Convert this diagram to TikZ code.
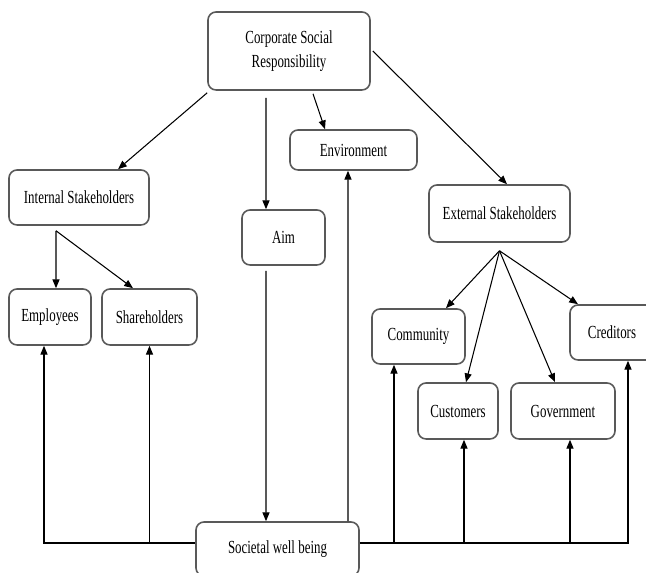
\documentclass[tikz,border=0pt]{standalone}
\usepackage{fontspec}
\setmainfont{Liberation Serif}
\usepackage{graphicx}
\usepackage{tikz}
\usetikzlibrary{arrows.meta,calc}
\newcommand{\nar}[1]{\scalebox{0.7}[1]{#1}}

\begin{document}
\begin{tikzpicture}[
    box/.style={draw=black!65, line width=0.9pt, rounded corners=0.16cm, align=center, inner sep=0pt, font=\fontsize{10.5}{13.6}\selectfont},
    arr/.style={-{Triangle[length=5pt,width=4pt]}, line width=0.6pt}
]
\useasboundingbox (0,0) rectangle (12.92,11.46);
\node[box, minimum width=3.24cm, minimum height=1.56cm] (csr) at (5.78,10.44) {\nar{Corporate Social}\\\nar{Responsibility}};
\node[box, minimum width=2.54cm, minimum height=0.8cm] (env) at (7.07,8.46) {\nar{Environment}};
\node[box, minimum width=2.8cm, minimum height=1.1cm] (int) at (1.58,7.51) {\nar{Internal Stakeholders}};
\node[box, minimum width=1.66cm, minimum height=1.1cm] (aim) at (5.67,6.71) {\nar{Aim}};
\node[box, minimum width=2.82cm, minimum height=1.14cm] (ext) at (9.99,7.19) {\nar{External Stakeholders}};
\node[box, minimum width=1.64cm, minimum height=1.12cm] (emp) at (1.0,5.12) {\nar{Employees}};
\node[box, minimum width=1.9cm, minimum height=1.12cm] (sha) at (2.99,5.12) {\nar{Shareholders}};
\node[box, minimum width=1.86cm, minimum height=1.1cm] (com) at (8.37,4.73) {\nar{Community}};
\node[box, minimum width=1.68cm, minimum height=1.1cm] (cre) at (12.24,4.81) {\nar{Creditors}};
\node[box, minimum width=1.6cm, minimum height=1.12cm] (cus) at (9.16,3.24) {\nar{Customers}};
\node[box, minimum width=2.08cm, minimum height=1.12cm] (gov) at (11.26,3.24) {\nar{Government}};
\node[box, minimum width=3.26cm, minimum height=1.08cm] (soc) at (5.55,0.48) {\nar{Societal well being}};
\coordinate (base) at (0,0.6);
\coordinate (comx) at ($(com.south)+(-0.49,0)$);
\coordinate (cusx) at ($(cus.south)+(0.12,0)$);
\coordinate (govx) at ($(gov.south)+(0.14,0)$);

\draw[arr] ($(csr.south west)+(0,-0.04)$) -- ($(int.north)+(0.78,0)$);
\draw[arr] ($(csr.south)+(-0.46,-0.14)$) -- ($(aim.north)+(-0.35,0)$);
\draw[arr] ($(csr.south)+(0.48,-0.06)$) -- ($(env.north)+(-0.57,0)$);
\draw[arr] ($(csr.east)+(0.04,0)$) -- ($(ext.north)+(0.15,0)$);
\draw[arr] ($(int.south)+(-0.46,-0.1)$) -- ($(emp.north)+(0.12,0)$);
\draw[arr] ($(int.south)+(-0.46,-0.1)$) -- ($(sha.north)+(-0.33,0)$);
\draw[arr] ($(ext.south)+(0,-0.16)$) -- ($(com.north)+(0.55,0)$);
\draw[arr] ($(ext.south)+(0,-0.16)$) -- ($(cus.north)+(0.16,0)$);
\draw[arr] ($(ext.south)+(0,-0.16)$) -- ($(gov.north)+(-0.16,0)$);
\draw[arr] ($(ext.south)+(0,-0.16)$) -- ($(cre.north)+(-0.68,0)$);
\draw[arr] ($(aim.south)+(-0.35,-0.1)$) -- ($(soc.north)+(-0.23,0)$);
\draw[arr] ($(soc.north)+(1.41,0)$) -- ($(env.south)+(-0.11,0)$);

\draw[arr] (soc.west |- base) -| ($(emp.south)+(-0.12,0)$);
\draw[arr] (sha.south |- base) -- (sha.south);
\draw[arr] (soc.east |- base) -| ($(cre.south)+(0.32,0)$);
\draw[arr] (comx |- base) -- (comx);
\draw[arr] (cusx |- base) -- (cusx);
\draw[arr] (govx |- base) -- (govx);
\end{tikzpicture}
\end{document}
